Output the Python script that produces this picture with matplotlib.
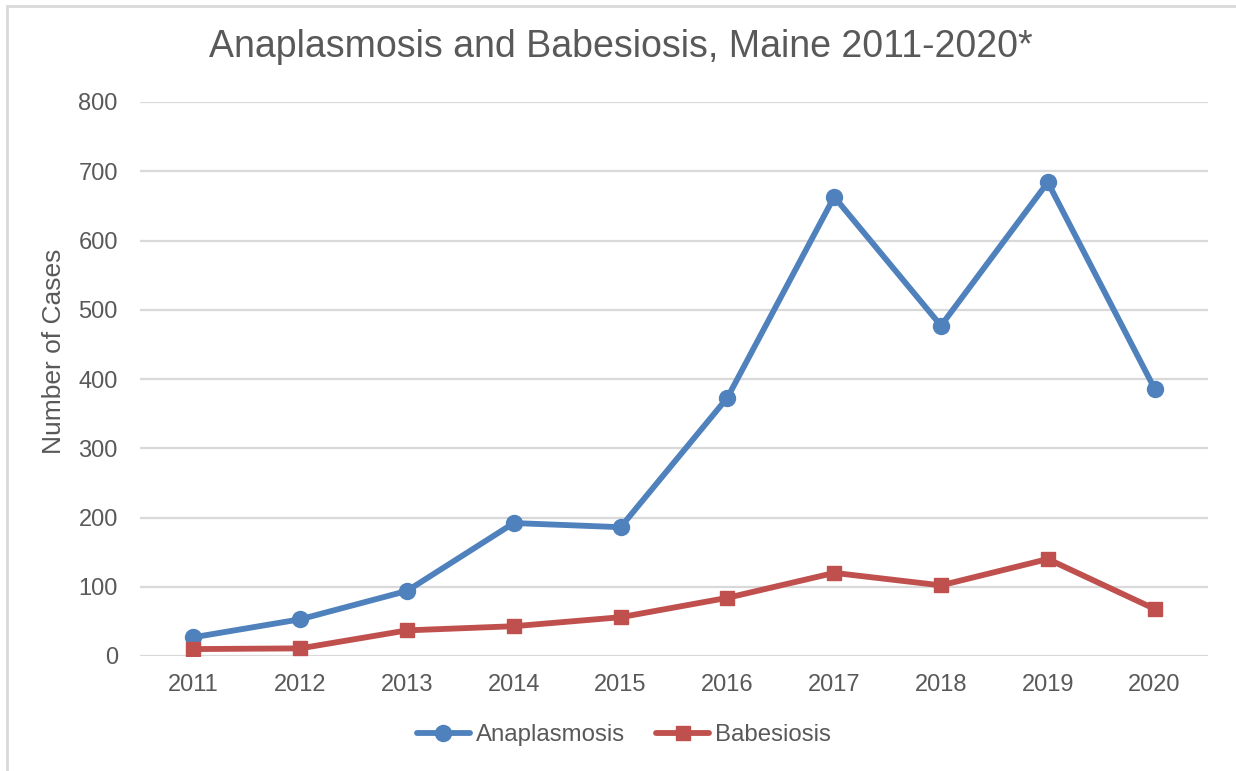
import matplotlib
matplotlib.use('Agg')
import matplotlib.pyplot as plt
from matplotlib.patches import Rectangle

plt.rcParams['font.family'] = ['Liberation Sans', 'DejaVu Sans']

years = ['2011', '2012', '2013', '2014', '2015', '2016', '2017', '2018', '2019', '2020']
anaplasmosis = [27, 53, 94, 192, 186, 373, 663, 477, 684, 386]
babesiosis = [10, 11, 37, 43, 56, 84, 120, 102, 140, 68]

text_col = '#595959'
W, H = 1236, 771

fig = plt.figure(figsize=(W / 100, H / 100), dpi=100)
ax = fig.add_axes([140 / W, 1 - 656 / H, (1208 - 140) / W, (656 - 102) / H])

x = range(len(years))
ax.plot(x, anaplasmosis, color='#4F81BD', lw=4.2, marker='o', ms=11.5,
        label='Anaplasmosis', solid_capstyle='round')
ax.plot(x, babesiosis, color='#C0504D', lw=4.2, marker='s', ms=10.5,
        label='Babesiosis', solid_capstyle='round')

ax.set_xlim(-0.5, len(years) - 0.5)
ax.set_ylim(0, 800)
ax.set_yticks(range(0, 801, 100))
ax.set_xticks(list(x))
ax.set_xticklabels(years)
ax.grid(axis='y', color='#D9D9D9', lw=1.6)
ax.set_axisbelow(True)
for s in ax.spines.values():
    s.set_visible(False)
ax.tick_params(length=0, labelsize=17, colors=text_col, pad=13)
ax.tick_params(axis='y', pad=16)

fig.text(54 / W, 1 - 351 / H, 'Number of Cases', rotation=90, ha='center', va='center',
         fontsize=19, color=text_col)
fig.text(621 / W, 1 - 47 / H, 'Anaplasmosis and Babesiosis, Maine 2011-2020*',
         ha='center', va='center', fontsize=27, color=text_col)

leg = fig.legend(loc='center', bbox_to_anchor=(624 / W, 1 - 735 / H), ncol=2,
                 frameon=False, fontsize=17.3, handlelength=2.2, handletextpad=0.25,
                 columnspacing=1.3, labelcolor=text_col)

fig.patches.append(Rectangle((6.5 / W, -0.1), 1.2, 1.1 - 6.5 / H, transform=fig.transFigure,
                             fill=False, ec='#D9D9D9', lw=2))

fig.savefig('out.png', dpi=100)
